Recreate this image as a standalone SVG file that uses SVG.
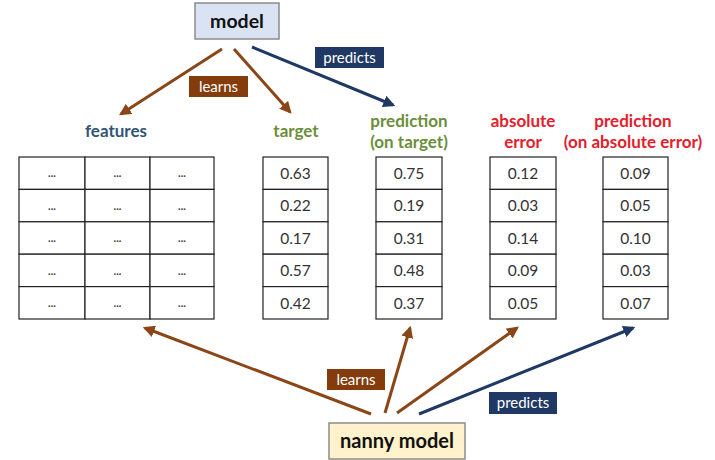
<svg xmlns="http://www.w3.org/2000/svg" width="715" height="460" viewBox="0 0 715 460">
<style>
text{font-family:Lato,"Open Sans","Liberation Sans",sans-serif}
.cell{fill:#fff;stroke:#222;stroke-width:1.2}
.num{font-size:15.5px;fill:#333;text-anchor:middle}
.dots{font-size:11px;fill:#444;text-anchor:middle;font-weight:bold}
.hdr{font-size:17px;font-weight:bold;text-anchor:middle}
.lbl{font-size:15px;fill:#fff;text-anchor:middle}
.br{stroke:#8a4616;stroke-width:3;fill:none;marker-end:url(#ab)}
.nv{stroke:#1f3864;stroke-width:3;fill:none;marker-end:url(#an)}
</style>
<defs>
<marker id="ab" viewBox="0 0 10 10" refX="8" refY="5" markerWidth="4" markerHeight="4" orient="auto"><path d="M0,0 L10,5 L0,10 z" fill="#8a4616"/></marker>
<marker id="an" viewBox="0 0 10 10" refX="8" refY="5" markerWidth="4" markerHeight="4" orient="auto"><path d="M0,0 L10,5 L0,10 z" fill="#1f3864"/></marker>
</defs>
<rect width="715" height="460" fill="#fff"/>
<g id="connectors">
<line class="br" x1="222" y1="49" x2="121" y2="114"/>
<line class="br" x1="234" y1="49" x2="290" y2="112"/>
<line class="nv" x1="252" y1="47" x2="393" y2="105"/>
<line class="br" x1="371" y1="414" x2="145" y2="328"/>
<line class="br" x1="385" y1="413" x2="410" y2="328"/>
<line class="br" x1="397" y1="413" x2="517" y2="328"/>
<line class="nv" x1="419" y1="414" x2="633" y2="328"/>
<rect x="189" y="76" width="59" height="21" fill="#843c0c"/>
<text class="lbl" x="218.5" y="91.5">learns</text>
<rect x="315" y="47" width="69" height="21" fill="#1f3864"/>
<text class="lbl" x="349.5" y="62.5">predicts</text>
<rect x="327" y="369" width="58" height="21" fill="#843c0c"/>
<text class="lbl" x="356" y="384.5">learns</text>
<rect x="489" y="392" width="68" height="22" fill="#1f3864"/>
<text class="lbl" x="523" y="408">predicts</text>
</g>
<g id="model">
<rect x="195" y="3" width="84" height="36" fill="#dae3f3" stroke="#8c8c8c" stroke-width="1.5"/>
<text x="237" y="28" font-size="19.5" font-weight="bold" fill="#111" text-anchor="middle">model</text>
</g>
<g id="nanny-model">
<rect x="329" y="423" width="136" height="36" fill="#fff2cc" stroke="#8c8c8c" stroke-width="1.5"/>
<text x="397" y="448" font-size="20" font-weight="bold" fill="#111" text-anchor="middle">nanny model</text>
</g>
<g id="features">
<text class="hdr" x="116" y="137" fill="#2f5574">features</text>
<g>
<rect class="cell" x="19" y="157" width="66" height="32.4"/><rect class="cell" x="85" y="157" width="65" height="32.4"/><rect class="cell" x="150" y="157" width="64" height="32.4"/>
<rect class="cell" x="19" y="189.4" width="66" height="32.4"/><rect class="cell" x="85" y="189.4" width="65" height="32.4"/><rect class="cell" x="150" y="189.4" width="64" height="32.4"/>
<rect class="cell" x="19" y="221.8" width="66" height="32.4"/><rect class="cell" x="85" y="221.8" width="65" height="32.4"/><rect class="cell" x="150" y="221.8" width="64" height="32.4"/>
<rect class="cell" x="19" y="254.2" width="66" height="32.4"/><rect class="cell" x="85" y="254.2" width="65" height="32.4"/><rect class="cell" x="150" y="254.2" width="64" height="32.4"/>
<rect class="cell" x="19" y="286.6" width="66" height="32.4"/><rect class="cell" x="85" y="286.6" width="65" height="32.4"/><rect class="cell" x="150" y="286.6" width="64" height="32.4"/>
</g>
<g>
<text class="dots" x="52" y="177">...</text><text class="dots" x="117.5" y="177">...</text><text class="dots" x="182" y="177">...</text>
<text class="dots" x="52" y="209.5">...</text><text class="dots" x="117.5" y="209.5">...</text><text class="dots" x="182" y="209.5">...</text>
<text class="dots" x="52" y="242">...</text><text class="dots" x="117.5" y="242">...</text><text class="dots" x="182" y="242">...</text>
<text class="dots" x="52" y="274.5">...</text><text class="dots" x="117.5" y="274.5">...</text><text class="dots" x="182" y="274.5">...</text>
<text class="dots" x="52" y="307">...</text><text class="dots" x="117.5" y="307">...</text><text class="dots" x="182" y="307">...</text>
</g>
</g>
<g id="target">
<text class="hdr" x="296" y="137" fill="#6b8e3a">target</text>
<rect class="cell" x="263" y="157" width="65" height="32.4"/><rect class="cell" x="263" y="189.4" width="65" height="32.4"/><rect class="cell" x="263" y="221.8" width="65" height="32.4"/><rect class="cell" x="263" y="254.2" width="65" height="32.4"/><rect class="cell" x="263" y="286.6" width="65" height="32.4"/>
<text class="num" x="295.5" y="178.5">0.63</text><text class="num" x="295.5" y="211">0.22</text><text class="num" x="295.5" y="243.5">0.17</text><text class="num" x="295.5" y="276">0.57</text><text class="num" x="295.5" y="308.5">0.42</text>
</g>
<g id="prediction-target">
<text class="hdr" x="409" y="127" fill="#6b8e3a">prediction</text>
<text class="hdr" x="409" y="148" fill="#6b8e3a">(on target)</text>
<rect class="cell" x="376" y="157" width="66" height="32.4"/><rect class="cell" x="376" y="189.4" width="66" height="32.4"/><rect class="cell" x="376" y="221.8" width="66" height="32.4"/><rect class="cell" x="376" y="254.2" width="66" height="32.4"/><rect class="cell" x="376" y="286.6" width="66" height="32.4"/>
<text class="num" x="409" y="178.5">0.75</text><text class="num" x="409" y="211">0.19</text><text class="num" x="409" y="243.5">0.31</text><text class="num" x="409" y="276">0.48</text><text class="num" x="409" y="308.5">0.37</text>
</g>
<g id="absolute-error">
<text class="hdr" x="523" y="127" fill="#e3202b">absolute</text>
<text class="hdr" x="523" y="148" fill="#e3202b">error</text>
<rect class="cell" x="490" y="157" width="66" height="32.4"/><rect class="cell" x="490" y="189.4" width="66" height="32.4"/><rect class="cell" x="490" y="221.8" width="66" height="32.4"/><rect class="cell" x="490" y="254.2" width="66" height="32.4"/><rect class="cell" x="490" y="286.6" width="66" height="32.4"/>
<text class="num" x="523" y="178.5">0.12</text><text class="num" x="523" y="211">0.03</text><text class="num" x="523" y="243.5">0.14</text><text class="num" x="523" y="276">0.09</text><text class="num" x="523" y="308.5">0.05</text>
</g>
<g id="prediction-error">
<text class="hdr" x="633" y="127" fill="#e3202b">prediction</text>
<text class="hdr" x="633" y="148" fill="#e3202b">(on absolute  error)</text>
<rect class="cell" x="603" y="157" width="65" height="32.4"/><rect class="cell" x="603" y="189.4" width="65" height="32.4"/><rect class="cell" x="603" y="221.8" width="65" height="32.4"/><rect class="cell" x="603" y="254.2" width="65" height="32.4"/><rect class="cell" x="603" y="286.6" width="65" height="32.4"/>
<text class="num" x="635.5" y="178.5">0.09</text><text class="num" x="635.5" y="211">0.05</text><text class="num" x="635.5" y="243.5">0.10</text><text class="num" x="635.5" y="276">0.03</text><text class="num" x="635.5" y="308.5">0.07</text>
</g>
</svg>
